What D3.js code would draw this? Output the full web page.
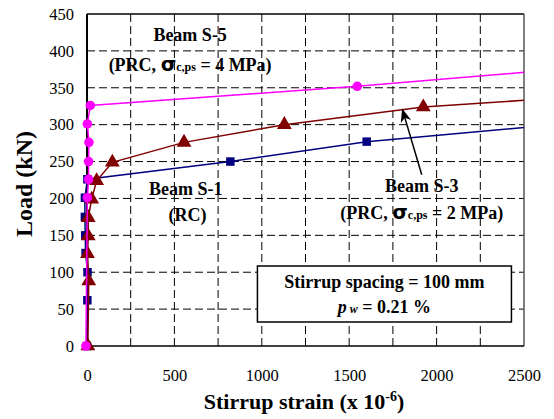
<!DOCTYPE html>
<html>
<head>
<meta charset="utf-8">
<script src="https://cdn.jsdelivr.net/npm/d3@7"></script>
<style>
  body { margin: 0; background: #fff; }
  text { font-family: "Liberation Serif", "Times New Roman", "DejaVu Serif", serif; }
</style>
</head>
<body>
<div id="chart"></div>
<script>
// data: [strain (x10^-6), load (kN)]
const s1Points = [[0, 0], [2, 62], [3, 100], [-8, 126], [-10, 150], [-12, 175], [-12, 201], [2, 226], [820, 250], [1600, 277]];
const s1LineEnd = [2500, 296];
const s3Points = [[5, 0], [10, 88], [3, 125], [7, 149], [7, 174], [27, 199], [55, 224], [145, 249], [555, 276], [1129, 300], [1924, 324]];
const s3LineEnd = [2500, 333];
const s5Points = [[-6, 0], [2, 201], [9, 226], [9, 250], [11, 276], [2, 301], [19, 326], [1546, 352]];
const s5LineEnd = [2500, 371];

const xTicks = [0, 500, 1000, 1500, 2000, 2500];
const yTicks = [0, 50, 100, 150, 200, 250, 300, 350, 400, 450];
const xGrid = [250, 500, 750, 1000, 1250, 1500, 1750, 2000, 2250];

const width = 554, height = 419;
const margin = { top: 14, right: 30, bottom: 73, left: 87 };
const iw = width - margin.left - margin.right;
const ih = height - margin.top - margin.bottom;

const svg = d3.select("#chart").append("svg")
  .attr("width", width).attr("height", height);
const g = svg.append("g").attr("transform", `translate(${margin.left},${margin.top})`);

const x = d3.scaleLinear().domain([0, 2500]).range([0, iw]);
const y = d3.scaleLinear().domain([0, 450]).range([ih, 0]);

// grid
g.selectAll(".hgrid").data(yTicks.filter(d => d > 0 && d < 450)).join("line")
  .attr("x1", 0).attr("x2", iw)
  .attr("y1", d => y(d)).attr("y2", d => y(d))
  .attr("stroke", "#000").attr("stroke-width", 1).attr("stroke-dasharray", "8,4");
g.selectAll(".vgrid").data(xGrid).join("line")
  .attr("x1", d => x(d)).attr("x2", d => x(d))
  .attr("y1", 0).attr("y2", ih)
  .attr("stroke", "#000").attr("stroke-width", 1).attr("stroke-dasharray", "8,4");

// frame
g.append("line").attr("x1", 0).attr("x2", iw).attr("y1", 0).attr("y2", 0).attr("stroke", "#000").attr("stroke-width", 1.5);
g.append("line").attr("x1", iw).attr("x2", iw).attr("y1", 0).attr("y2", ih).attr("stroke", "#555").attr("stroke-width", 1.5);
g.append("line").attr("x1", 0).attr("x2", iw).attr("y1", ih).attr("y2", ih).attr("stroke", "#000").attr("stroke-width", 1.5);
g.append("line").attr("x1", 0).attr("x2", 0).attr("y1", 0).attr("y2", ih).attr("stroke", "#000").attr("stroke-width", 2);

// axes labels
const xAxis = g.append("g").attr("transform", `translate(0,${ih})`)
  .call(d3.axisBottom(x).tickValues(xTicks).tickSize(0).tickPadding(23).tickFormat(d3.format("d")));
xAxis.select(".domain").remove();
xAxis.selectAll("text").attr("font-size", 16.5).attr("fill", "#000");

const yAxis = g.append("g")
  .call(d3.axisLeft(y).tickValues(yTicks).tickSize(0).tickPadding(13).tickFormat(d3.format("d")));
yAxis.select(".domain").remove();
yAxis.selectAll("text").attr("font-size", 16.5).attr("fill", "#000");

// series
const line = d3.line().x(d => x(d[0])).y(d => y(d[1]));
const series = [
  { pts: s1Points, end: s1LineEnd, color: "#000080", shape: d3.symbolSquare, size: 72 },
  { pts: s3Points, end: s3LineEnd, color: "#800000", shape: d3.symbolTriangle, size: 95 },
  { pts: s5Points, end: s5LineEnd, color: "#ff00ff", shape: d3.symbolCircle, size: 72 }
];
series.forEach(s => {
  g.append("path").attr("d", line(s.pts.concat([s.end])))
    .attr("fill", "none").attr("stroke", s.color).attr("stroke-width", 1.5);
  g.selectAll(null).data(s.pts).join("path")
    .attr("transform", d => `translate(${x(d[0])},${y(d[1])})`)
    .attr("d", d3.symbol().type(s.shape).size(s.size))
    .attr("fill", s.color);
});

// annotations
function label(px, py, parts) {
  const t = g.append("text").attr("x", px).attr("y", py)
    .attr("text-anchor", "middle").attr("font-weight", "bold").attr("font-size", 18);
  parts.forEach(p => {
    const ts = t.append("tspan").text(p.t);
    if (p.size) ts.attr("font-size", p.size);
    if (p.dy) ts.attr("dy", p.dy);
    if (p.font) ts.attr("font-family", p.font);
    if (p.italic) ts.attr("font-style", "italic");
  });
}
label(x(590), 41 - margin.top, [{ t: "Beam S-5" }]);
label(x(590), 71 - margin.top, [{ t: "(PRC, " }, { t: "σ", size: 20, font: "DejaVu Sans" }, { t: "c,ps", size: 12 }, { t: " = 4 MPa)" }]);
label(x(565), 195 - margin.top, [{ t: "Beam S-1" }]);
label(x(575), 221 - margin.top, [{ t: "(RC)" }]);
label(x(1915), 192 - margin.top, [{ t: "Beam S-3" }]);
label(x(1915), 219 - margin.top, [{ t: "(PRC, " }, { t: "σ", size: 20, font: "DejaVu Sans" }, { t: "c,ps", size: 12 }, { t: " = 2 MPa)" }]);

// arrow to S-3
svg.append("defs").append("marker").attr("id", "ah")
  .attr("viewBox", "0 0 10 10").attr("refX", 9).attr("refY", 5)
  .attr("markerWidth", 9).attr("markerHeight", 9).attr("orient", "auto")
  .append("path").attr("d", "M0,1 L10,5 L0,9 L3,5 Z").attr("fill", "#000");
g.append("line")
  .attr("x1", x(1915)).attr("y1", y(232))
  .attr("x2", x(1805)).attr("y2", y(320))
  .attr("stroke", "#000").attr("stroke-width", 1.5).attr("marker-end", "url(#ah)");

// info box
const bx = x(975), by = 266 - margin.top;
g.append("rect").attr("x", bx).attr("y", by).attr("width", 254).attr("height", 56)
  .attr("fill", "#fff").attr("stroke", "#000").attr("stroke-width", 1.5);
label(bx + 127, by + 22, [{ t: "Stirrup spacing  = 100 mm" }]);
label(bx + 127, by + 47, [{ t: "p", italic: true }, { t: " w", size: 12, italic: true }, { t: " = 0.21 %" }]);

// axis titles
svg.append("text").attr("x", 304).attr("y", 409).attr("text-anchor", "middle")
  .attr("font-weight", "bold").attr("font-size", 22)
  .call(t => {
    t.append("tspan").text("Stirrup strain (x 10");
    t.append("tspan").text("-6").attr("font-size", 14).attr("dy", -8);
    t.append("tspan").text(")").attr("dy", 8);
  });
svg.append("text").attr("transform", "translate(32,184) rotate(-90)")
  .attr("text-anchor", "middle").attr("font-weight", "bold").attr("font-size", 24)
  .text("Load (kN)");
</script>
</body>
</html>
